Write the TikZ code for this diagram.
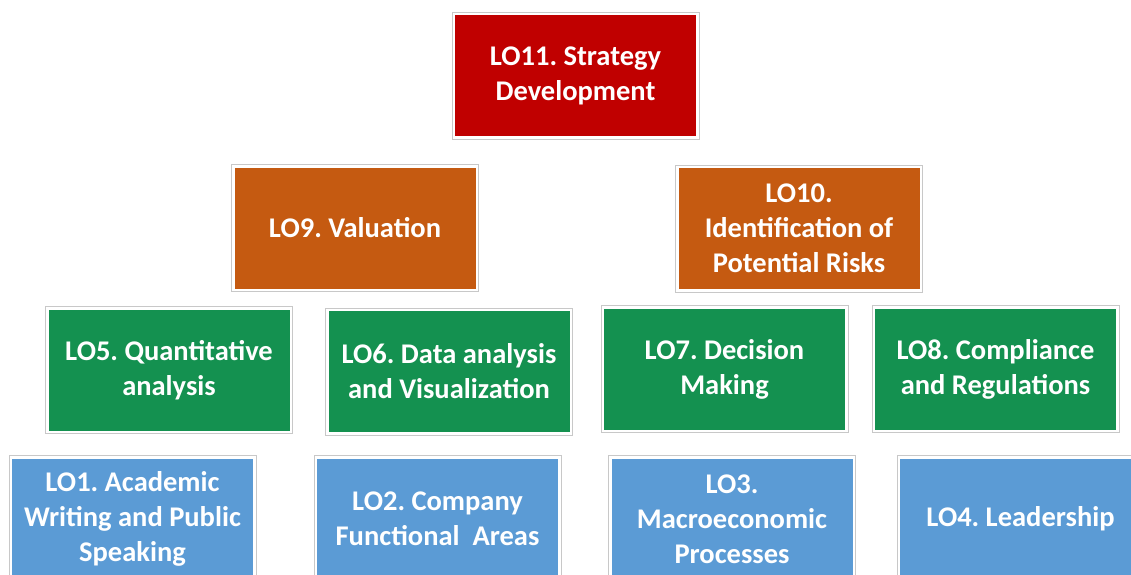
\documentclass[tikz,border=0pt]{standalone}
\usepackage{fontspec}
\setmainfont{Carlito}
\frenchspacing
\definecolor{cred}{HTML}{C00000}
\definecolor{corange}{HTML}{C55A11}
\definecolor{cgreen}{HTML}{149150}
\definecolor{cblue}{HTML}{5B9BD5}
\definecolor{cedge}{HTML}{C8C8C8}
\tikzset{
  lobox/.style={fill=#1, draw=white, line width=3pt, minimum width=244pt, minimum height=124pt,
    inner sep=0pt, outer sep=1.5pt, text=white, align=center,
    font=\fontsize{28.5}{35}\selectfont\bfseries\frenchspacing},
  rim/.style={draw=cedge, line width=0.9pt}
}
\begin{document}
\begin{tikzpicture}[x=1pt,y=-1pt]
\useasboundingbox (0,0) rectangle (1131,574);
\clip (0,0) rectangle (1131,574);
\fill[white] (0,0) rectangle (1131,574);
\node[lobox=cred] (lo11) at (575.5,75.5) {LO11. Strategy\\Development};
\node[lobox=corange] (lo9) at (355,228) {LO9. Valuation};
\node[lobox=corange] (lo10) at (799,228.5) {LO10.\\Identification of\\Potential Risks};
\node[lobox=cgreen] (lo5) at (169,370) {LO5. Quantitative\\analysis};
\node[lobox=cgreen] (lo6) at (449,371.5) {LO6. Data analysis\\and Visualization};
\node[lobox=cgreen] (lo7) at (724.5,369) {LO7. Decision\\Making};
\node[lobox=cgreen] (lo8) at (995.5,369) {LO8. Compliance\\and Regulations};
\node[lobox=cblue] (lo1) at (132.5,519) {LO1. Academic\\Writing and Public\\Speaking};
\node[lobox=cblue] (lo2) at (437.5,519) {LO2. Company\\Functional\ \ Areas};
\node[lobox=cblue] (lo3) at (732,519) {LO3.\\Macroeconomic\\Processes};
\node[lobox=cblue] (lo4) at (1020.5,519) {LO4. Leadership};
\foreach \n in {lo11,lo9,lo10,lo5,lo6,lo7,lo8,lo1,lo2,lo3,lo4}
  \draw[rim] (\n.north west) rectangle (\n.south east);
\end{tikzpicture}
\end{document}
